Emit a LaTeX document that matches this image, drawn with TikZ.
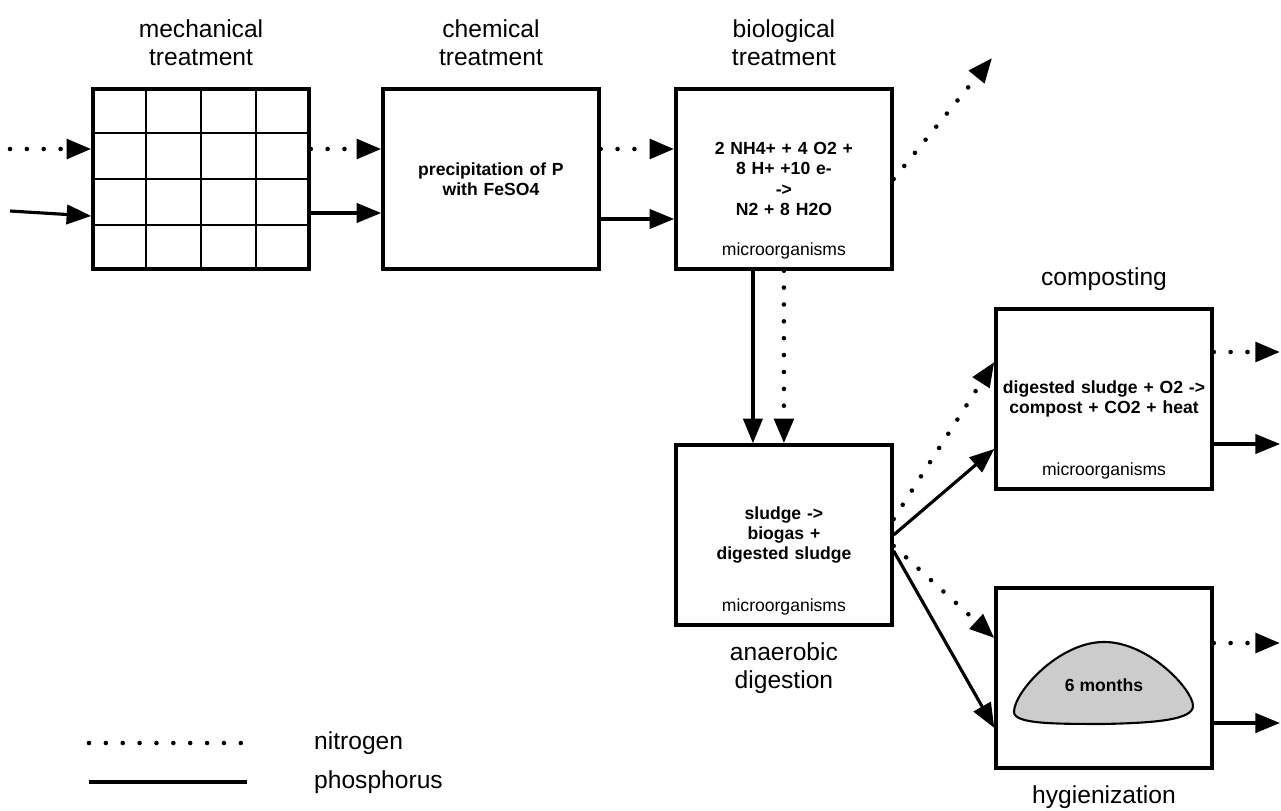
\documentclass[tikz,border=0pt]{standalone}
\usepackage{fontspec}
\setmainfont{Liberation Sans}
\usetikzlibrary{arrows.meta,positioning,calc}

\begin{document}
\begin{tikzpicture}[
    x=0.02cm, y=-0.02cm,
    stage/.style={rectangle, minimum width=4.32cm, minimum height=3.6cm, inner sep=0pt, text centered, text width=4.2cm, draw=black, line width=2pt, font=\fontsize{10}{11.5}\selectfont\bfseries},
    heading/.style={align=center, font=\fontsize{14}{16}\selectfont},
    micro/.style={font=\fontsize{10}{12}\selectfont},
    gridline/.style={line width=1.2pt},
    nitroline/.style={line width=2.6pt, line cap=round, dash pattern=on 0pt off 9.6pt},
    phosline/.style={line width=1.8pt},
    nitro/.style={nitroline, -{Triangle[length=14pt,width=11pt]}},
    phos/.style={phosline, -{Triangle[length=14pt,width=11pt]}},
    blob/.style={draw=black, line width=1.2pt, fill=gray!40}
]
\useasboundingbox (0,0) rectangle (1281,811);

% Nodes
\node (mech) [stage] at (201,179) {};
\node (chem) [stage, right=1.41cm of mech] {precipitation of P\\with FeSO4};
\node (bio) [stage, right=1.47cm of chem] {2 NH4+ + 4 O2 +\\8 H+ +10 e-\\->\\N2 + 8 H2O};
\node (anaer) [stage, below=3.45cm of bio] {sludge ->\\biogas +\\digested sludge};
\node (comp) [stage] at (1104,399) {digested sludge + O2 ->\\compost + CO2 + heat};
\node (hyg) [stage, below=1.91cm of comp] {};

\node (mecht) [heading, above=0.3cm of mech] {mechanical\\treatment};
\node (chemt) [heading, above=0.3cm of chem] {chemical\\treatment};
\node (biot) [heading, above=0.3cm of bio] {biological\\treatment};
\node (compt) [heading, above=0.2cm of comp] {composting};
\node (anaert) [heading, below=0.2cm of anaer] {anaerobic\\digestion};
\node (hygt) [heading, below=0.2cm of hyg] {hygienization};

\node (biomic) [micro, above=0.1cm of bio.south] {microorganisms};
\node (anaermic) [micro, above=0.1cm of anaer.south] {microorganisms};
\node (compmic) [micro, above=0.1cm of comp.south] {microorganisms};

% grid of the screen
\foreach \k in {1,2,3} {
  \draw[gridline] ($(mech.north west)!\k/4!(mech.north east)$) -- ($(mech.south west)!\k/4!(mech.south east)$);
  \draw[gridline] ($(mech.north west)!\k/4!(mech.south west)$) -- ($(mech.north east)!\k/4!(mech.south east)$);
}

% heap
\draw[blob, shift={(hyg.center)}] (0,46) .. controls (-50,46) and (-90,46) .. (-90,34)
  .. controls (-90,14) and (-45,-36) .. (0,-36) .. controls (45,-36) and (89,12) .. (89,28)
  .. controls (89,42) and (50,45) .. (0,46) -- cycle;
\node (sixm) [font=\fontsize{10}{12}\selectfont\bfseries] at ([yshift=-0.14cm]hyg.center) {6 months};

% Coordinates
\coordinate (nin) at (10,149);
\coordinate (pin) at (10,211);
\coordinate (nout) at (992,58);
\coordinate (cnout) at (1280,352);
\coordinate (cpout) at (1280,444);
\coordinate (hnout) at (1280,643);
\coordinate (hpout) at (1280,723);

% Arrows
\draw[nitro] (nin) -- (nin -| mech.west);
\draw[phos] (pin) -- ([yshift=-0.74cm]mech.west);
\draw[nitro] (mech.east |- nin) -- (chem.west |- nin);
\draw[phos] ([yshift=-0.68cm]mech.east) -- ([yshift=-0.68cm]chem.west);
\draw[nitro] (chem.east |- nin) -- (bio.west |- nin);
\draw[phos] ([yshift=-0.8cm]chem.east) -- ([yshift=-0.8cm]bio.west);
\draw[nitro] (bio.east) -- (nout);
\draw[phos] ([xshift=-0.62cm]bio.south) -- ([xshift=-0.62cm]anaer.north);
\draw[nitro] (bio.south) -- (anaer.north);
\draw[nitro] ([yshift=0.32cm]anaer.east) -- ([yshift=0.74cm]comp.west);
\draw[phos] (anaer.east) -- ([yshift=-1cm]comp.west);
\draw[nitro] ([yshift=-0.22cm]anaer.east) -- ([yshift=0.8cm]hyg.west);
\draw[phos] ([yshift=-0.32cm]anaer.east) -- ([yshift=-1cm]hyg.west);
\draw[nitro] (comp.east |- cnout) -- (cnout);
\draw[phos] (comp.east |- cpout) -- (cpout);
\draw[nitro] (hyg.east |- hnout) -- (hnout);
\draw[phos] (hyg.east |- hpout) -- (hpout);

% Legend
\coordinate (legna) at (89,743);
\coordinate (legnb) at (247,743);
\coordinate (legpa) at (89,782);
\coordinate (legpb) at (247,782);
\draw[nitroline] (legna) -- (legnb);
\draw[phosline] (legpa) -- (legpb);
\node (legn) [heading, anchor=west] at (308,743) {nitrogen};
\node (legp) [heading, anchor=west] at (308,782) {phosphorus};

\end{tikzpicture}
\end{document}
